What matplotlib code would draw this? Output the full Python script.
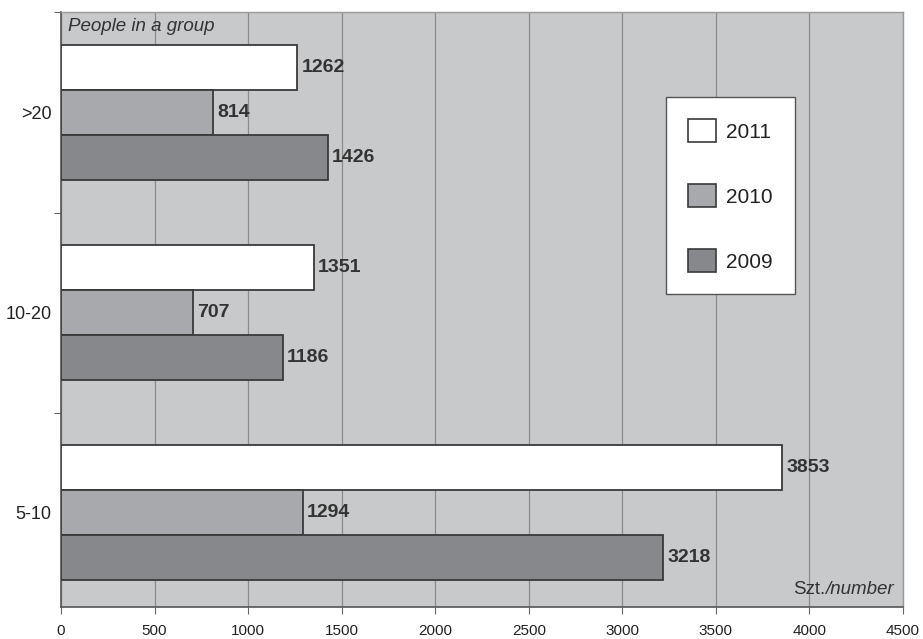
import matplotlib
matplotlib.use("Agg")
import matplotlib.pyplot as plt
import numpy as np
from matplotlib.patches import Patch

plt.rcParams['font.family'] = ['Liberation Sans', 'DejaVu Sans']

categories = ["5-10", "10-20", ">20"]
years = ["2011", "2010", "2009"]
v2011 = [3853, 1351, 1262]
v2010 = [1294, 707, 814]
v2009 = [3218, 1186, 1426]
xticks = [0, 500, 1000, 1500, 2000, 2500, 3000, 3500, 4000, 4500]

colors = {"2011": "#ffffff", "2010": "#a8a9ac", "2009": "#87888b"}
series = {"2011": v2011, "2010": v2010, "2009": v2009}
offsets = {"2011": 0.225, "2010": 0.0, "2009": -0.225}
h = 0.225

fig = plt.figure(figsize=(9.23, 6.39), dpi=100)
ax = fig.add_axes([61/923, 1-607/639, (903-61)/923, (607-12)/639])
ax.set_facecolor("#c8c9cb")
y = np.arange(len(categories))

for yr in years:
    vals = series[yr]
    ax.barh(y + offsets[yr], vals, height=h, color=colors[yr],
            edgecolor="#3a3a3a", linewidth=1.3, zorder=3)
    for yi, v in zip(y, vals):
        ax.text(v + 22, yi + offsets[yr], str(v), va="center", ha="left",
                fontsize=14, fontweight="bold", color="#333333", zorder=4)

ax.set_xlim(0, 4500)
ax.set_ylim(-0.47, 2.502)
ax.set_xticks(xticks)
ax.set_xticklabels([str(t) for t in xticks], fontsize=11, color="#222222")
ax.xaxis.grid(True, color="#8c8c8c", linewidth=0.9, zorder=0)
ax.set_axisbelow(True)
ax.tick_params(axis="x", length=5, color="#666666", pad=7)

ax.set_yticks([0.5, 1.5, 2.5])
ax.set_yticklabels([])
ax.tick_params(axis="y", which="major", length=5, color="#666666")
ax.set_yticks(y, minor=True)
ax.set_yticklabels(categories, minor=True, fontsize=13, color="#222222")
ax.tick_params(axis="y", which="minor", length=0, pad=7)

for s in ["top", "right"]:
    ax.spines[s].set_color("#9a9a9a")
    ax.spines[s].set_linewidth(1.0)
for s in ["left", "bottom"]:
    ax.spines[s].set_color("#555555")
    ax.spines[s].set_linewidth(1.2)

ax.text(0.008, 0.99, "People in a group", transform=ax.transAxes, ha="left", va="top",
        fontsize=13.5, fontstyle="italic", color="#333333")
t2 = ax.text(0.989, 0.015, "/number", transform=ax.transAxes, ha="right", va="bottom",
             fontsize=13.5, fontstyle="italic", color="#333333")
fig.canvas.draw()
bb = t2.get_window_extent().transformed(ax.transAxes.inverted())
ax.text(bb.x0, 0.015, "Szt.", transform=ax.transAxes, ha="right", va="bottom",
        fontsize=13.5, color="#333333")

handles = [Patch(facecolor=colors[yr], edgecolor="#3a3a3a", linewidth=1.2, label=yr) for yr in years]
leg = ax.legend(handles=handles, loc="upper left", bbox_to_anchor=(0.7185, 0.857),
                borderaxespad=0, fontsize=15, handlelength=1.35, handleheight=1.35,
                labelspacing=2.0, borderpad=1.05, handletextpad=0.5, fancybox=False,
                frameon=True, edgecolor="#555555", facecolor="white", framealpha=1)
leg.get_frame().set_linewidth(1.0)
for t in leg.get_texts():
    t.set_color("#222222")

fig.savefig("out.png", dpi=100)
